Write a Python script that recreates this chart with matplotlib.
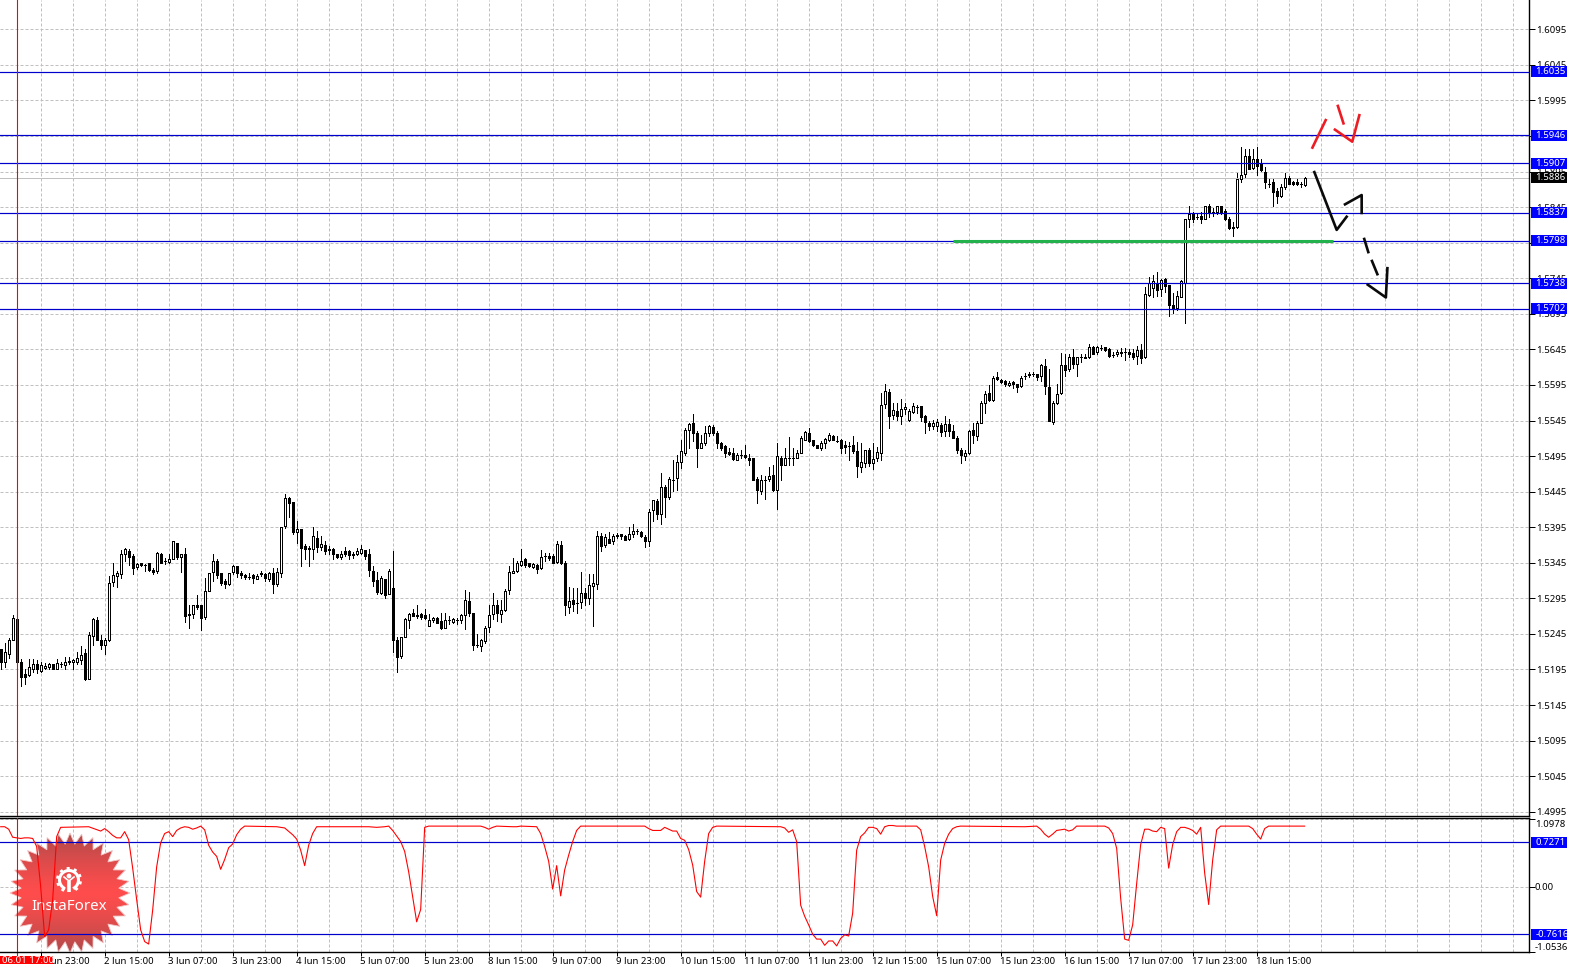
import numpy as np
import matplotlib
matplotlib.use("Agg")
import matplotlib.pyplot as plt
from matplotlib.patches import Rectangle, Polygon, Circle

plt.rcParams['font.family'] = ['Noto Sans', 'DejaVu Sans']

# prices below are written as (price - 1) * 10000
opens = [
    5224,5205,5217,5236,5266,5205,5188,5187,5196,5202, 5193,5197,5198,5202,5195,5203,5201,5207,5205,5205,
    5209,5218,5181,5242,5265,5236,5230,5236,5318,5326, 5329,5358,5362,5354,5339,5344,5342,5344,5335,5334,
    5358,5347,5346,5350,5373,5353,5358,5273,5273,5285, 5286,5269,5306,5332,5348,5330,5319,5315,5332,5340,
    5330,5328,5325,5328,5322,5330,5329,5322,5331,5315, 5331,5397,5436,5431,5388,5392,5368,5366,5365,5380,
    5367,5370,5365,5364,5357,5353,5361,5361,5358,5358, 5359,5363,5357,5334,5321,5302,5322,5301,5310,5236,
    5214,5241,5265,5275,5272,5273,5271,5256,5264,5268, 5263,5254,5264,5262,5265,5264,5271,5291,5275,5230,
    5228,5235,5255,5273,5286,5273,5279,5307,5330,5333, 5342,5350,5345,5339,5342,5338,5355,5354,5355,5346,
    5370,5345,5283,5292,5289,5290,5302,5295,5313,5315, 5382,5370,5379,5375,5384,5385,5383,5378,5385,5389,
    5388,5381,5375,5419,5432,5414,5452,5437,5462,5464, 5487,5500,5532,5542,5527,5507,5514,5527,5536,5528,
    5514,5509,5501,5500,5490,5497,5496,5493,5492,5463, 5446,5462,5463,5468,5448,5493,5483,5493,5493,5493,
    5499,5518,5528,5517,5510,5507,5513,5518,5523,5516, 5517,5510,5509,5510,5502,5480,5485,5504,5485,5492,
    5500,5568,5585,5553,5559,5551,5561,5546,5557,5564, 5565,5552,5542,5537,5537,5539,5530,5540,5530,5521,
    5504,5495,5499,5531,5523,5542,5569,5583,5574,5606, 5602,5600,5595,5599,5596,5593,5607,5610,5611,5610,
    5607,5622,5592,5543,5569,5583,5623,5617,5635,5625, 5635,5633,5635,5648,5641,5647,5648,5646,5637,5638,
    5640,5642,5641,5640,5636,5644,5634,5721,5732,5739, 5730,5744,5735,5708,5703,5719,5739,5829,5836,5831,
    5833,5829,5846,5838,5838,5846,5839,5829,5817,5817, 5885,5891,5917,5900,5912,5905,5895,5878,5881,5867,
    5860,5874,5886,5880,5880,5878,5876,
]
highs = [
    5224,5232,5239,5272,5266,5210,5195,5210,5210,5208, 5206,5204,5204,5203,5210,5206,5212,5213,5210,5220,
    5228,5224,5247,5267,5269,5243,5239,5326,5344,5334, 5363,5366,5365,5357,5345,5345,5343,5344,5338,5360,
    5359,5352,5357,5375,5373,5358,5366,5285,5286,5299, 5286,5324,5331,5358,5351,5330,5322,5331,5342,5340,
    5333,5329,5331,5329,5329,5333,5331,5332,5337,5337, 5396,5441,5438,5431,5404,5392,5371,5369,5395,5390,
    5383,5376,5369,5366,5358,5362,5367,5363,5360,5366, 5370,5363,5364,5340,5332,5326,5322,5336,5362,5240,
    5240,5268,5275,5280,5285,5275,5280,5273,5269,5269, 5274,5274,5270,5268,5267,5273,5307,5304,5275,5245,
    5238,5256,5285,5302,5293,5293,5308,5341,5352,5348, 5364,5352,5345,5345,5343,5363,5359,5359,5357,5375,
    5376,5348,5311,5310,5309,5332,5309,5329,5329,5390, 5387,5385,5388,5385,5387,5386,5384,5395,5399,5392,
    5390,5384,5420,5433,5434,5471,5454,5465,5490,5496, 5517,5534,5542,5554,5530,5525,5537,5539,5539,5530,
    5515,5510,5507,5507,5500,5503,5510,5498,5493,5465, 5468,5467,5479,5482,5513,5495,5506,5522,5507,5503,
    5523,5530,5534,5518,5511,5516,5520,5527,5524,5523, 5519,5516,5515,5523,5515,5514,5504,5506,5513,5508,
    5583,5597,5589,5570,5570,5575,5569,5561,5569,5567, 5565,5553,5545,5546,5547,5542,5552,5547,5538,5523,
    5507,5504,5532,5542,5545,5572,5586,5595,5607,5613, 5604,5602,5600,5600,5597,5607,5612,5613,5613,5611,
    5624,5632,5617,5572,5597,5640,5638,5638,5646,5635, 5639,5639,5652,5650,5650,5651,5649,5647,5641,5644,
    5647,5647,5645,5646,5650,5652,5733,5747,5749,5754, 5744,5746,5736,5724,5727,5742,5829,5846,5838,5836,
    5838,5847,5850,5844,5846,5846,5842,5831,5824,5893, 5929,5927,5927,5927,5929,5912,5901,5885,5884,5872,
    5877,5893,5889,5882,5885,5881,5888,
]
lows = [
    5196,5198,5211,5236,5206,5172,5174,5186,5191,5190, 5192,5195,5196,5195,5195,5198,5195,5202,5195,5202,
    5202,5180,5181,5229,5237,5224,5217,5235,5312,5311, 5324,5347,5342,5329,5336,5340,5334,5334,5329,5331,
    5344,5343,5345,5350,5351,5332,5262,5254,5268,5280, 5251,5266,5305,5320,5324,5314,5310,5314,5329,5325,
    5324,5322,5322,5316,5322,5327,5320,5320,5302,5312, 5325,5394,5410,5385,5373,5341,5351,5341,5351,5360,
    5363,5358,5358,5351,5352,5350,5355,5350,5352,5356, 5358,5351,5326,5313,5301,5301,5295,5301,5220,5191,
    5211,5241,5253,5270,5268,5266,5266,5256,5262,5261, 5252,5253,5259,5260,5259,5260,5252,5270,5223,5227,
    5221,5232,5247,5266,5263,5262,5277,5301,5330,5332, 5341,5339,5339,5338,5331,5336,5347,5349,5345,5345,
    5343,5271,5275,5277,5275,5282,5285,5287,5256,5308, 5361,5367,5373,5372,5380,5379,5377,5377,5381,5385,
    5381,5367,5368,5404,5406,5399,5409,5435,5446,5448, 5478,5496,5506,5516,5480,5506,5510,5523,5525,5507,
    5504,5494,5496,5489,5489,5493,5492,5482,5461,5429, 5442,5435,5460,5446,5421,5462,5483,5482,5483,5492,
    5499,5518,5515,5509,5506,5504,5507,5516,5517,5515, 5499,5499,5490,5500,5465,5472,5480,5481,5477,5488,
    5490,5562,5534,5547,5546,5540,5554,5545,5555,5555, 5544,5527,5532,5533,5530,5523,5523,5523,5520,5500,
    5485,5489,5498,5513,5518,5541,5555,5573,5572,5602, 5598,5594,5593,5591,5585,5592,5604,5606,5607,5602,
    5600,5582,5544,5540,5568,5582,5607,5614,5619,5607, 5627,5633,5633,5638,5639,5644,5643,5635,5635,5636,
    5636,5630,5635,5631,5624,5626,5633,5720,5719,5720, 5720,5725,5692,5696,5700,5719,5682,5817,5824,5829,
    5822,5828,5831,5833,5836,5836,5827,5814,5804,5816, 5880,5886,5899,5899,5890,5896,5872,5874,5847,5851,
    5859,5871,5877,5876,5876,5873,5875,
]
closes = [
    5205,5219,5237,5267,5206,5185,5185,5198,5202,5195, 5201,5200,5203,5196,5204,5203,5205,5205,5209,5211,
    5216,5182,5244,5266,5237,5229,5236,5317,5328,5330, 5358,5364,5353,5338,5343,5342,5342,5335,5332,5359,
    5344,5347,5351,5375,5353,5358,5270,5271,5285,5283, 5268,5305,5331,5347,5328,5316,5315,5331,5340,5330,
    5328,5325,5325,5323,5327,5329,5324,5330,5315,5332, 5396,5436,5429,5388,5392,5366,5364,5364,5382,5367,
    5371,5361,5363,5358,5353,5358,5358,5356,5356,5361, 5364,5354,5335,5320,5304,5323,5299,5334,5237,5213,
    5240,5266,5273,5270,5270,5269,5268,5264,5268,5261, 5254,5264,5264,5266,5265,5271,5292,5274,5229,5230,
    5236,5254,5272,5285,5274,5278,5306,5332,5333,5344, 5348,5342,5341,5343,5336,5353,5355,5352,5345,5371,
    5344,5285,5291,5287,5289,5302,5295,5314,5316,5382, 5369,5381,5373,5383,5382,5382,5377,5386,5390,5389,
    5382,5376,5417,5433,5413,5451,5437,5463,5462,5486, 5502,5531,5540,5528,5507,5514,5527,5537,5528,5513,
    5506,5500,5498,5491,5497,5497,5494,5490,5462,5448, 5462,5462,5467,5447,5495,5482,5493,5493,5492,5500,
    5521,5529,5516,5510,5506,5514,5519,5524,5518,5516, 5506,5508,5509,5502,5481,5486,5503,5485,5491,5501,
    5567,5586,5552,5560,5551,5561,5564,5559,5565,5564, 5550,5543,5537,5542,5543,5529,5540,5530,5521,5504,
    5496,5500,5530,5524,5541,5570,5582,5574,5605,5603, 5599,5596,5598,5596,5592,5605,5607,5609,5611,5606,
    5623,5593,5544,5569,5582,5623,5616,5635,5624,5635, 5635,5635,5649,5639,5649,5647,5644,5636,5637,5642,
    5641,5642,5638,5635,5644,5633,5723,5738,5741,5728, 5743,5734,5707,5702,5720,5741,5829,5836,5829,5831,
    5829,5847,5838,5838,5846,5837,5828,5816,5816,5885, 5890,5917,5899,5913,5903,5897,5880,5878,5866,5860,
    5874,5886,5878,5878,5878,5878,5886,
]

# oscillator in the lower window, bar number and value
ind_bars = [
    0,1,2,3,4,5,6,7,8,9,10,11,12,13,14,15,22,25,26,27,28,29,30,31,32,33,34,35,36,37,38,39,40,41,42,43,44,45,46,47,48,49,50,
    51,52,53,54,55,56,57,58,59,60,61,69,71,73,74,75,76,77,78,79,92,94,96,97,98,99,100,101,102,103,104,105,106,107,
    120,121,122,123,124,128,129,130,134,135,136,137,138,139,140,141,142,143,144,145,161,162,163,165,166,167,168,169,
    170,171,172,173,174,175,176,177,178,179,195,196,197,198,199,200,201,202,203,204,205,206,207,208,209,210,211,212,213,
    214,215,216,217,218,219,220,221,222,223,224,229,230,231,232,233,234,235,236,237,238,239,240,256,259,260,261,262,263,264,
    265,266,267,268,269,276,277,278,279,280,281,282,283,284,285,286,287,288,289,290,291,292,293,294,295,296,297,298,299,
    300,301,302,303,304,305,312,313,314,315,316,317,326,
]
ind_vals = [
    .98,.98,.94,.81,.80,.79,.80,.80,.79,.66,.01,-.80,-.69,-.20,.82,.97,.98,.91,.95,.90,.84,.80,.80,.90,.77,.31,-.20,-.69,-.88,-.92,-.37,.33,.72,.87,.90,.82,.92,.96,.98,.97,.94,.96,.99,
    .93,.68,.57,.50,.29,.45,.64,.70,.85,.94,.99,.98,.96,.85,.78,.60,.35,.68,.87,.98,.98,.97,.98,.99,.92,.83,.74,.58,.25,-.15,-.56,-.36,.97,.99,
    .99,.97,.94,.97,.99,.98,.98,.99,.98,.87,.66,.42,-.03,.35,-.14,.28,.52,.74,.92,.99,.99,.95,.92,.92,.97,.94,.91,.91,
    .79,.76,.61,.36,-.07,-.16,.42,.87,.97,.99,.98,.96,.89,.93,.74,-.29,-.47,-.61,-.76,-.84,-.84,-.94,-.87,-.87,-.95,-.83,-.77,-.79,-.42,
    .60,.82,.88,.97,.97,.95,.86,.98,1.0,1.0,.99,.99,.93,.66,.33,-.15,-.46,.44,.71,.86,.95,.98,.99,.98,.99,.94,.86,.81,.86,.92,
    .93,.94,.91,.93,.99,.99,.96,.87,.63,-.18,-.84,-.86,-.61,.06,.69,.94,.94,.91,.90,.97,.95,.31,.69,.90,.97,.97,.95,.92,.86,
    .97,.23,-.28,.44,.93,.99,.99,.95,.86,.78,.95,.99,.99,
]

levels = [1.6035, 1.5946, 1.5907, 1.5837, 1.5798, 1.5738, 1.5702]
ind_levels = [0.7271, -0.7616]
last_price = 1.5886
price_ticks = [round(1.4995 + 0.005 * k, 4) for k in range(23)]
ind_ticks = [1.0978, 0.0, -1.0536]
ind_tick_labels = ['1.0978', '0.00', '-1.0536']

time_labels = ['1 Jun 23:00', '2 Jun 15:00', '3 Jun 07:00', '3 Jun 23:00', '4 Jun 15:00',
               '5 Jun 07:00', '5 Jun 23:00', '8 Jun 15:00', '9 Jun 07:00', '9 Jun 23:00',
               '10 Jun 15:00', '11 Jun 07:00', '11 Jun 23:00', '12 Jun 15:00', '15 Jun 07:00',
               '15 Jun 23:00', '16 Jun 15:00', '17 Jun 07:00', '17 Jun 23:00', '18 Jun 15:00']

# hand drawn forecast, (bars, prices)
green_line = ([238, 333], [1.5797, 1.5797])
black_lines = [
    ([328.3, 334, 336.7], [1.5896, 1.5813, 1.5833]),
    ([335.8, 340.25, 340.25], [1.5848, 1.5862, 1.5835]),
    ([340.8, 342], [1.5802, 1.5780]),
    ([342.7, 344.3], [1.5771, 1.5749]),
    ([341.5, 346.3, 346.7], [1.5737, 1.5718, 1.5761]),
]
red_lines = [
    ([327.8, 331.4], [1.5927, 1.5969]),
    ([334.2, 335.8], [1.5989, 1.5961]),
    ([333.3, 337.9, 339.75], [1.5955, 1.5937, 1.5976]),
]

W, H = 1571, 964
PX = 0.72  # one pixel in points at dpi 100
FS = 6.9
GRID = dict(color='#c0c0c0', lw=PX, ls=(0, (3, 2)))
BLUE = '#0000cd'

fig = plt.figure(figsize=(W / 100, H / 100), dpi=100, facecolor='white')
right = 1529.3
ax1 = fig.add_axes([0, 1 - 816 / H, right / W, 816 / H])
ax2 = fig.add_axes([0, 1 - 952.3 / H, right / W, (952.3 - 818.3) / H])

xlim = (-0.1675, (right - 0.67) / 4)
ax1.set_xlim(xlim)
ax2.set_xlim(xlim)
ax1.set_ylim(1.49890, 1.61362)
ax2.set_ylim(-1.0536, 1.1165)

grid_bars = np.arange(10, 382, 8)
tick_bars = 10 + 16 * np.arange(len(time_labels))

for ax in (ax1, ax2):
    ax.set_axisbelow(True)
    ax.set_xticks(grid_bars)
    ax.grid(True, axis='x', **GRID)
    ax.grid(True, axis='y', **GRID)
    ax.yaxis.tick_right()
    ax.tick_params(axis='y', length=4, width=PX, pad=1.2, labelsize=FS, colors='black')
    for side in ('top', 'bottom', 'left', 'right'):
        ax.spines[side].set_linewidth(1.4 * PX)
    ax.spines['left'].set_visible(False)

ax1.spines['top'].set_visible(False)
ax1.set_yticks(price_ticks)
ax1.set_yticklabels([f'{p:.4f}' for p in price_ticks])
ax1.tick_params(axis='x', length=0, labelbottom=False)

# lower window labels sit inside the frame, so they get their own offsets
ax2.set_yticks(ind_ticks)
ax2.set_yticklabels([])
for val, lab, dy in zip(ind_ticks, ind_tick_labels, [-3.6, 0, 3.6]):
    ax2.annotate(lab, xy=(1, val), xycoords=ax2.get_yaxis_transform(), xytext=(3.9, dy),
                 textcoords='offset points', fontsize=FS, ha='left', va='center',
                 annotation_clip=False)

ax2.tick_params(axis='x', length=0, labelbottom=False)
for bar, lab in zip(tick_bars, time_labels):
    ax2.plot([bar, bar], [0, -0.03], transform=ax2.get_xaxis_transform(), color='black',
             lw=PX, clip_on=False, solid_capstyle='butt')
    ax2.text(bar - 0.25, -0.06, lab, transform=ax2.get_xaxis_transform(), fontsize=FS,
             ha='left', va='center', clip_on=False)

# candles
o = 1 + np.array(opens) / 10000
h = 1 + np.array(highs) / 10000
l = 1 + np.array(lows) / 10000
c = 1 + np.array(closes) / 10000
bars = np.arange(len(o))
up = c >= o
ax1.vlines(bars, l, h, color='black', lw=PX, antialiased=False, zorder=2)
ax1.bar(bars[up], (c - o)[up], 0.5, bottom=o[up], facecolor='white', edgecolor='black',
        lw=PX, antialiased=False, zorder=3)
ax1.bar(bars[~up], (c - o)[~up], 0.5, bottom=o[~up], facecolor='black', edgecolor='black',
        lw=PX, antialiased=False, zorder=3)

ax1.axhline(last_price, color='#c0c0c0', lw=PX, zorder=2.5)
for lev in levels:
    ax1.axhline(lev, color=BLUE, lw=PX * 1.2, zorder=4)
ax1.plot(*green_line, color='#22b14c', lw=2.2, solid_capstyle='butt', zorder=5)
for xs, ys in black_lines:
    ax1.plot(xs, ys, color='#0a0a0a', lw=1.9, solid_capstyle='butt', zorder=6)
for xs, ys in red_lines:
    ax1.plot(xs, ys, color='#ed1c24', lw=1.9, solid_capstyle='butt', zorder=6)


def price_box(ax, value, text, half, color):
    trans = ax.get_yaxis_transform()
    ax.add_patch(Rectangle((1531 / right, value - half), 36 / right, 2 * half, transform=trans,
                           facecolor=color, edgecolor='none', clip_on=False, zorder=8))
    ax.text(1535.2 / right, value, text, transform=trans, color='white', fontsize=FS,
            ha='left', va='center', clip_on=False, zorder=9)


half1 = 5.5 / 7113
half2 = 5.5 / 61.8
for lev in levels:
    price_box(ax1, lev, f'{lev:.4f}', half1, '#0000ff')
price_box(ax1, last_price, f'{last_price:.4f}', half1, 'black')

# lower window
ax2.plot(ind_bars, ind_vals, color='#ff0000', lw=PX * 1.1, zorder=4)
for lev in ind_levels:
    ax2.axhline(lev, color=BLUE, lw=PX * 1.2, zorder=3)
    price_box(ax2, lev, f'{lev:.4f}', half2, '#0000ff')

# marker line for the selected time runs through both windows
ax1.axvline(3.96, color='#ff0000', lw=PX * 1.1, zorder=7)
ax2.axvline(3.96, color='#ff0000', lw=PX * 1.1, zorder=7)
ax2.plot([3.96, 3.96], [0, -0.02], transform=ax2.get_xaxis_transform(), color='#ff0000',
         lw=PX * 1.1, clip_on=False)
fig.patches.append(Rectangle((0, 0), 53 / W, 8.5 / H, transform=fig.transFigure,
                             facecolor='#ff0000', edgecolor='none', zorder=10))
fig.text(1.5 / W, 3.5 / H, '06.01 17:00', color='white', fontsize=FS, ha='left', va='center', zorder=11)

# logo, sits over the grid and under the lines
cx, cy, rr = 70, 893, 60
logo = ax2.inset_axes([(cx - rr) / right, (952.3 - cy - rr) / 134, 2 * rr / right, 2 * rr / 134], zorder=1)
logo.set_xlim(-rr, rr)
logo.set_ylim(-rr, rr)
logo.axis('off')
logo.patch.set_alpha(0)
grad = np.abs(np.linspace(-1, 1, 128))[:, None]
top = np.array([1.0, 0.30, 0.30])
edge = np.array([0.69, 0.29, 0.29])
img = (top + (edge - top) * grad[..., None] ** 1.3).reshape(128, 1, 3)
im = logo.imshow(img, extent=(-rr, rr, -rr, rr), aspect='auto', zorder=1)
teeth = 32
ang = np.linspace(0, 2 * np.pi, 2 * teeth, endpoint=False)
rad = np.where(np.arange(2 * teeth) % 2 == 0, rr, rr - 11)
star = Polygon(np.c_[rad * np.cos(ang), rad * np.sin(ang)], closed=True, transform=logo.transData,
               facecolor='none', edgecolor='#f3c4c4', lw=0.6, zorder=2)
logo.add_patch(star)
im.set_clip_path(star)
star.set_clip_on(False)
logo.text(-1, -14, 'InstaForex', color='white', fontsize=10.9, ha='center', va='center', zorder=5)
# gear
gx, gy = -1, 13
for a in np.arange(-50, 240, 36):
    t = np.radians(a)
    logo.plot([gx + 9 * np.cos(t), gx + 13 * np.cos(t)], [gy + 9 * np.sin(t), gy + 13 * np.sin(t)],
              color='white', lw=2.2, solid_capstyle='butt', zorder=5)
t = np.radians(np.linspace(-55, 235, 40))
logo.plot(gx + 9.5 * np.cos(t), gy + 9.5 * np.sin(t), color='white', lw=2.2, zorder=5)
logo.add_patch(Circle((gx, gy + 4), 2.4, facecolor='white', edgecolor='none', zorder=5))
logo.plot([gx - 5, gx, gx + 5], [gy + 3, gy - 1, gy + 3], color='white', lw=1.2, zorder=5)
logo.plot([gx, gx], [gy - 1, gy - 12], color='white', lw=2.6, solid_capstyle='butt', zorder=5)

fig.savefig('out.png', dpi=100, facecolor='white')
